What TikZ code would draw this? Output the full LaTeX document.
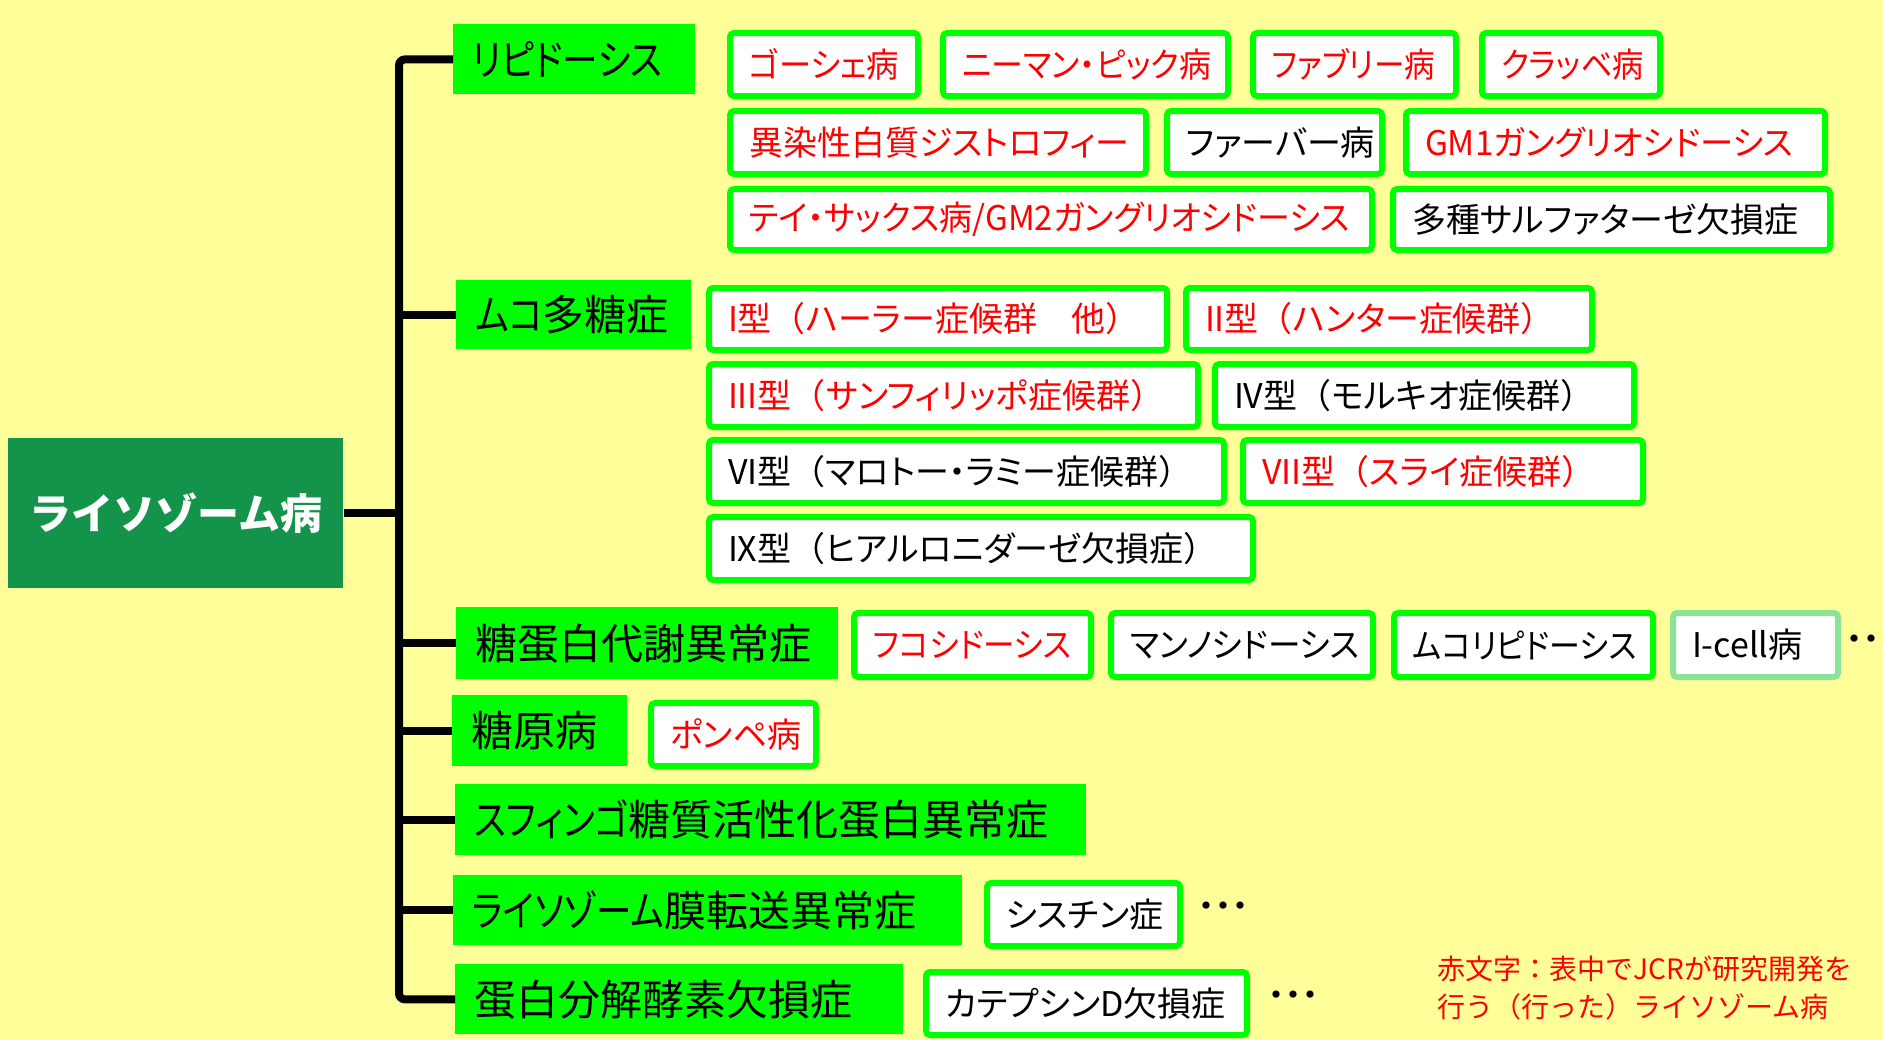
\documentclass[tikz,border=0pt]{standalone}
\usepackage{fontspec}
\usepackage{graphicx}
\newfontfamily\jpf[RawFeature=+palt]{Noto Sans CJK JP}
\newfontfamily\jpfr{Noto Sans CJK JP}
\definecolor{bgc}{HTML}{FFFF99}
\definecolor{bgreen}{HTML}{00FF00}
\definecolor{lgreen}{HTML}{8CE296}
\definecolor{rootg}{HTML}{14944A}
\definecolor{redt}{HTML}{FF0000}
\newcommand\dzdfont{\jpf\fontsize{17pt}{20pt}\selectfont}
\newcommand\dzcfont{\jpf\fontsize{21pt}{24pt}\selectfont}
\newcommand\kx[1]{\scalebox{0.85}[1]{#1}}
\newcommand\sx[2]{\scalebox{#1}[1]{#2}}
\newcommand\lpz{{\jpfr （}}
\newcommand\rpz{{\jpfr ）}}
\tikzset{
  dis/.style={draw=bgreen, line width=3pt, fill=white, rounded corners=2pt,
    inner xsep=9.5pt, inner ysep=0pt, anchor=north west, font=\dzdfont},
  rt/.style={text=redt},
  bt/.style={text=black},
  cat/.style={fill=bgreen, inner xsep=9.5pt, inner ysep=0pt, anchor=north west, font=\dzcfont},
  trunk/.style={line width=4pt, black},
  dots/.style={anchor=west, inner sep=0pt, font=\dzdfont},
}
\newcommand\dzbox[7]{%
  \pgfmathsetmacro\dzw{(#4-#2-6)*0.5-19}%
  \pgfmathsetmacro\dzh{(#5-#3-6)*0.5}%
  \node[dis,#6,minimum height=\dzh pt] (#1) at (#2+3,#3+3) {\makebox[\dzw pt][l]{#7}};}
\newcommand\dzcat[6]{%
  \pgfmathsetmacro\dzw{(#4-#2)*0.5-19}%
  \pgfmathsetmacro\dzh{(#5-#3)*0.5}%
  \node[cat,minimum height=\dzh pt] (#1) at (#2,#3) {\makebox[\dzw pt][l]{#6}};}
\begin{document}
\begin{tikzpicture}[x=0.5pt,y=-0.5pt]
\useasboundingbox (0,0) rectangle (1883,1039);
\fill[bgc] (0,0) rectangle (1883,1039);
% root
\node[fill=rootg, text=white, anchor=north west, minimum width=167.5pt, minimum height=75pt,
  inner sep=0pt, font={\jpfr\bfseries\fontsize{21pt}{26pt}\selectfont}] (root) at (8,438) {ライソゾーム病};
% categories
\dzcat{c1}{453}{24}{695}{94}{\kx{リピドーシス}}
\dzcat{c2}{456}{280}{691}{349}{\kx{ムコ}多糖症}
\dzcat{c3}{456}{607}{838}{679}{糖蛋白代謝異常症}
\dzcat{c4}{452}{695}{627}{766}{糖原病}
\dzcat{c5}{455}{784}{1086}{855}{\kx{スフィンゴ}糖質活性化蛋白異常症}
\dzcat{c6}{453}{875}{962}{945}{\kx{ライソゾーム}膜転送異常症}
\dzcat{c7}{455}{964}{903}{1034}{蛋白分解酵素欠損症}
% tree lines
\coordinate (tx) at (399,0);
\draw[trunk, rounded corners=3pt] (c1.west) -- (c1.west -| tx) -- (c7.west -| tx) -- (c7.west);
\foreach \n in {c2,c3,c4,c5,c6} \draw[trunk] (tx |- \n.west) -- (\n.west);
\draw[trunk] (root.east) -- (root.east -| tx);
% lipidosis
\dzbox{gau}{724}{27}{918}{96}{rt}{\sx{0.95}{ゴーシェ病}}
\dzbox{nie}{937}{27}{1228}{96}{rt}{\sx{0.94}{ニーマン・ピック病}}
\dzbox{fab}{1247}{27}{1456}{96}{rt}{\sx{0.9}{ファブリー病}}
\dzbox{kra}{1476}{27}{1660}{96}{rt}{\sx{0.92}{クラッベ病}}
\dzbox{mld}{724}{105}{1146}{174}{rt}{異染性白質ジストロフィー}
\dzbox{far}{1161}{105}{1382}{174}{bt}{ファーバー病}
\dzbox{gm1}{1400}{105}{1825}{174}{rt}{\sx{0.98}{GM1ガングリオシドーシス}}
\dzbox{tay}{724}{183}{1372}{250}{rt}{\sx{0.97}{テイ・サックス病/GM2ガングリオシドーシス}}
\dzbox{msd}{1387}{183}{1830}{250}{bt}{多種サルファターゼ欠損症}
% mucopolysaccharidosis
\dzbox{m1}{703}{282}{1167}{350}{rt}{I型\lpz ハーラー症候群　他\rpz}
\dzbox{m2}{1180}{282}{1592}{350}{rt}{II型\lpz ハンター症候群\rpz}
\dzbox{m3}{703}{358}{1198}{427}{rt}{III型\lpz サンフィリッポ症候群\rpz}
\dzbox{m4}{1209}{358}{1634}{427}{bt}{IV型\lpz モルキオ症候群\rpz}
\dzbox{m6}{703}{434}{1224}{503}{bt}{VI型\lpz マロトー・ラミー症候群\rpz}
\dzbox{m7}{1237}{434}{1643}{503}{rt}{VII型\lpz スライ症候群\rpz}
\dzbox{m9}{703}{511}{1253}{580}{bt}{IX型\lpz ヒアルロニダーゼ欠損症\rpz}
% glycoprotein
\dzbox{fuc}{848}{607}{1091}{677}{rt}{\sx{0.93}{フコシドーシス}}
\dzbox{man}{1105}{607}{1373}{677}{bt}{\sx{0.96}{マンノシドーシス}}
\dzbox{mlp}{1388}{607}{1653}{677}{bt}{\sx{0.91}{ムコリピドーシス}}
\dzbox{icell}{1667}{607}{1838}{677}{bt,draw=lgreen}{I-cell病}
\node[dots] (d1) at (1846,643) {・・・};
% glycogen
\dzbox{pom}{645}{697}{816}{766}{rt}{ポンペ病}
% membrane
\dzbox{cys}{981}{877}{1180}{946}{bt}{シスチン症}
\node[dots] (d2) at (1198,910) {・・・};
% protease
\dzbox{ctd}{920}{966}{1247}{1035}{bt}{カテプシンD欠損症}
\node[dots] (d3) at (1268,999) {・・・};
% note
\node[anchor=west, inner sep=0pt, align=left, text=redt,
  font={\jpfr\fontsize{14pt}{19pt}\selectfont}] (note) at (1437,988)
  {赤文字：表中でJCRが研究開発を\\行う（行った）ライソゾーム病};
\end{tikzpicture}
\end{document}
